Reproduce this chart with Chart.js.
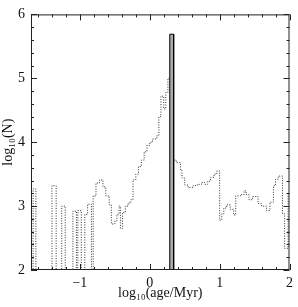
<!DOCTYPE html>
<html lang="en">
<head>
    <meta charset="UTF-8">
    <title>Age histogram</title>
    <script src="https://cdn.jsdelivr.net/npm/chart.js@4.4.0/dist/chart.umd.min.js"></script>
    <style>
        html, body { margin: 0; padding: 0; background: #fff; }
        canvas { display: block; }
    </style>
</head>
<body>
    <canvas id="ageChart" width="298" height="307"></canvas>
    <script>
        // log10(N) below the axis: bins with no objects
        const EMPTY = 1.5;

        // bin edges in log10(age/Myr), one more than the values
        const binEdges = [
            -1.70, -1.67, -1.63, -1.40, -1.34, -1.26, -1.21, -1.10, -1.05, -1.03,
            -0.98, -0.93, -0.89, -0.835, -0.81, -0.77, -0.72, -0.67, -0.63, -0.58,
            -0.55, -0.50, -0.47, -0.44, -0.42, -0.39, -0.35, -0.31, -0.27, -0.24,
            -0.20, -0.16, -0.12, -0.08, -0.04, 0.00, 0.04, 0.10, 0.13, 0.16,
            0.20, 0.23, 0.26, 0.34, 0.38, 0.44, 0.46, 0.50, 0.55, 0.62,
            0.68, 0.74, 0.79, 0.83, 0.87, 0.92, 0.96, 1.00, 1.03, 1.06,
            1.10, 1.15, 1.20, 1.23, 1.30, 1.35, 1.38, 1.42, 1.47, 1.55,
            1.60, 1.67, 1.72, 1.77, 1.80, 1.84, 1.90, 1.93, 1.98, 2.00
        ];

        // log10(N) in each bin (dotted histogram)
        const logN = [
            EMPTY, 3.27, EMPTY, 3.32, EMPTY, 3.00, EMPTY, 2.92, EMPTY, 2.93,
            EMPTY, 2.87, 3.03, EMPTY, 3.16, 3.36, 3.41, 3.30, 3.16, 3.02,
            2.72, 2.77, 2.87, 3.00, 2.65, 2.90, 3.00, 3.05, 3.10, 3.41,
            3.50, 3.62, 3.72, 3.85, 3.95, 4.00, 4.05, 4.10, 4.40, 4.72,
            4.52, 4.78, 5.00, 3.72, 3.68, 3.56, 3.44, 3.33, 3.29, 3.32,
            3.34, 3.37, 3.34, 3.39, 3.45, 3.50, 3.55, 2.78, 2.88, 2.97,
            3.02, 2.95, 2.86, 3.16, 3.18, 3.24, 3.18, 3.10, 3.15, 3.04,
            3.00, 2.93, 3.06, 3.32, 3.42, 3.47, 2.88, 2.34, 3.20
        ];

        // the single solid bin
        const peakEdges = [0.286, 0.342];
        const peakLogN = 5.69;

        const xRange = [-1.7, 2];
        const yRange = [2, 6];

        const histPoints = binEdges.map((x, i) => ({ x: x, y: logN[Math.min(i, logN.length - 1)] }));
        const peakPoints = [
            { x: peakEdges[0], y: yRange[0] },
            { x: peakEdges[0], y: peakLogN },
            { x: peakEdges[1], y: peakLogN },
            { x: peakEdges[1], y: yRange[0] }
        ];

        const isMajor = v => Math.abs(v - Math.round(v)) < 1e-6;
        const serif = "'Liberation Serif', 'DejaVu Serif', serif";
        const ink = '#222';

        // ticks drawn inward on all four sides, plus the frame
        const innerTicks = {
            id: 'innerTicks',
            afterDatasetsDraw(chart) {
                const { ctx, chartArea: a, scales: { x, y } } = chart;
                ctx.save();
                ctx.strokeStyle = ink;
                ctx.lineWidth = 1;
                ctx.strokeRect(a.left + 0.5, a.top + 0.5, a.width - 1, a.height - 1);
                ctx.beginPath();
                x.ticks.forEach(t => {
                    const px = Math.round(x.getPixelForValue(t.value)) + 0.5;
                    const len = isMajor(t.value) ? 6 : 3;
                    ctx.moveTo(px, a.bottom); ctx.lineTo(px, a.bottom - len);
                    ctx.moveTo(px, a.top); ctx.lineTo(px, a.top + len);
                });
                y.ticks.forEach(t => {
                    const py = Math.round(y.getPixelForValue(t.value)) + 0.5;
                    const len = isMajor(t.value) ? 6 : 3;
                    ctx.moveTo(a.left, py); ctx.lineTo(a.left + len, py);
                    ctx.moveTo(a.right, py); ctx.lineTo(a.right - len, py);
                });
                ctx.stroke();
                ctx.restore();
            }
        };

        const tickLabel = v => isMajor(v) ? String(Math.round(v)).replace('-', '\u2212') : '';

        new Chart(document.getElementById('ageChart'), {
            type: 'line',
            data: {
                datasets: [
                    {
                        label: 'peak',
                        data: peakPoints,
                        borderColor: '#000',
                        backgroundColor: '#aaa',
                        borderWidth: 1,
                        fill: 'start',
                        pointRadius: 0,
                        tension: 0
                    },
                    {
                        label: 'all',
                        data: histPoints,
                        borderColor: '#333',
                        borderWidth: 1,
                        borderDash: [1, 1.5],
                        stepped: true,
                        fill: false,
                        pointRadius: 0
                    }
                ]
            },
            options: {
                responsive: false,
                animation: false,
                layout: { padding: { top: 8, right: 4, bottom: 0, left: 0 } },
                plugins: { legend: { display: false }, tooltip: { enabled: false } },
                scales: {
                    x: {
                        type: 'linear',
                        min: xRange[0],
                        max: xRange[1],
                        grid: { display: false, drawTicks: false },
                        border: { display: false },
                        ticks: {
                            stepSize: 0.2,
                            includeBounds: false,
                            autoSkip: false,
                            maxRotation: 0,
                            padding: 5,
                            color: '#111',
                            font: { family: serif, size: 14 },
                            callback: tickLabel
                        },
                        title: {
                            display: true,
                            text: 'log\u2081\u2080(age/Myr)',
                            color: '#111',
                            font: { family: serif, size: 14 },
                            padding: { top: 0, bottom: 5 }
                        },
                        afterFit(scale) { scale.height = 37; }
                    },
                    y: {
                        min: yRange[0],
                        max: yRange[1],
                        grid: { display: false, drawTicks: false },
                        border: { display: false },
                        ticks: {
                            stepSize: 0.2,
                            autoSkip: false,
                            padding: 6,
                            color: '#111',
                            font: { family: serif, size: 14 },
                            callback: tickLabel
                        },
                        title: {
                            display: true,
                            text: 'log\u2081\u2080(N)',
                            color: '#111',
                            font: { family: serif, size: 14 },
                            padding: { top: 0, bottom: 0 }
                        },
                        afterFit(scale) { scale.width = 31; }
                    }
                }
            },
            plugins: [innerTicks]
        });
    </script>
</body>
</html>
